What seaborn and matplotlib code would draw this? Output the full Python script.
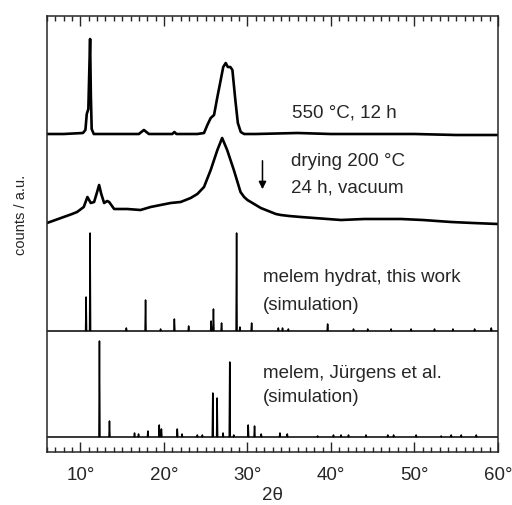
import numpy as np
import pandas as pd
import seaborn as sns
import matplotlib
matplotlib.use("Agg")
import matplotlib.pyplot as plt
from matplotlib.ticker import MultipleLocator

# measured pattern, 550 C 12 h (2theta, intensity above own baseline)
x550 = [6.0, 8.0, 10.3, 10.6, 10.76, 10.95, 11.05, 11.16, 11.25, 11.35, 11.6, 14.0, 17.0, 17.6, 18.2,
        21.0, 21.25, 21.5, 24.0, 24.8, 25.2, 25.6, 26.0, 26.4, 26.8, 27.1, 27.4, 27.65, 27.95, 28.2,
        28.55, 28.85, 29.2, 29.6, 31.0, 36.0, 40.0, 45.0, 50.0, 55.0, 60.0]
y550 = [1, 1, 2, 5, 21, 26, 60, 96, 40, 6, 1, 1, 1, 5, 1,
        1, 3, 1, 1, 2, 10, 17, 20, 38, 55, 68, 72, 68, 68, 65,
        35, 12, 3, 1, 1, 2, 1, 1, 1, 0, 0]

# measured pattern, drying 200 C 24 h vacuum
xdry = [6.0, 7.0, 8.0, 9.0, 9.6, 10.4, 10.84, 11.24, 11.64, 12.0, 12.24, 12.5, 12.84, 13.2, 13.44,
        14.04, 15.6, 17.2, 18.4, 19.6, 20.8, 22.0, 23.2, 24.0, 24.8, 25.6, 26.4, 26.97, 27.57, 28.37,
        29.17, 29.6, 30.0, 30.4, 31.0, 31.6, 32.2, 32.8, 33.4, 34.0, 35.0, 36.4, 38.0, 41.2, 44.0,
        48.4, 51.0, 54.4, 57.0, 60.0]
ydry = [29, 32, 35, 38, 40, 45, 55, 49, 50, 60, 67, 58, 49, 51, 50,
        43, 43, 42, 45, 47, 49, 50, 54, 58, 65, 82, 102, 114, 102, 82,
        60, 55, 52, 50, 47, 44, 42, 40, 38, 37, 36, 35, 34, 32, 33,
        33, 32, 30, 29, 28]

# simulated melem hydrate (this work): peak positions / intensities
hyd_pos = [10.68, 11.16, 15.5, 17.8, 19.6, 21.25, 22.96, 25.65, 25.93, 26.9, 28.7, 29.1, 30.5,
           33.7, 34.2, 34.9, 39.6, 42.7, 44.4, 47.2, 49.6, 52.4, 54.6, 57.2, 59.2]
hyd_int = [34, 98, 3, 31, 2, 12, 5, 10, 22, 8, 98, 4, 8,
           3, 3, 2, 7, 2, 2, 2, 2, 2, 2, 2, 3]

# simulated melem (Juergens et al.)
mel_pos = [12.28, 13.48, 16.48, 16.96, 18.08, 19.44, 19.7, 21.6, 22.17, 24.0, 24.6, 25.85, 26.37,
           27.08, 27.88, 28.36, 30.09, 30.85, 31.65, 33.89, 34.77, 38.4, 40.3, 41.2, 42.1, 44.2,
           46.8, 47.5, 50.2, 53.2, 54.4, 55.6, 57.4]
mel_int = [96, 16, 4, 3, 6, 12, 8, 8, 3, 2, 2, 44, 39,
           4, 75, 2, 12, 11, 3, 4, 3, 1, 2, 2, 2, 2,
           2, 2, 2, 1, 2, 2, 2]

# vertical offsets of the stacked patterns
off550, offdry, offhyd, offmel = 317, 200, 121, 15


def sticks(pos, inten, w=0.06):
    xs, ys = [6.0], [0]
    for p, h in zip(pos, inten):
        xs += [p - w, p, p + w]
        ys += [0, h, 0]
    xs.append(60.0)
    ys.append(0)
    return pd.DataFrame({"x": xs, "y": ys})


sns.set_style("ticks")
plt.rcParams["font.family"] = ["Liberation Sans", "DejaVu Sans"]

fig = plt.figure(figsize=(5.12, 5.05), dpi=100)
ax = fig.add_axes([47 / 512, 1 - 452 / 505, 451 / 512, 436 / 505])

d550 = pd.DataFrame({"x": x550, "y": np.array(y550) + off550})
ddry = pd.DataFrame({"x": xdry, "y": np.array(ydry) + offdry})
dhyd = sticks(hyd_pos, hyd_int)
dhyd["y"] += offhyd
dmel = sticks(mel_pos, mel_int)
dmel["y"] += offmel

sns.lineplot(data=d550, x="x", y="y", color="k", lw=1.9, sort=False, estimator=None, ax=ax)
sns.lineplot(data=ddry, x="x", y="y", color="k", lw=1.9, sort=False, estimator=None, ax=ax)
sns.lineplot(data=dhyd, x="x", y="y", color="k", lw=1.1, sort=False, estimator=None, ax=ax)
sns.lineplot(data=dmel, x="x", y="y", color="k", lw=1.1, sort=False, estimator=None, ax=ax)

fs = 13.5
ax.text(35.3, 339, "550 °C, 12 h", fontsize=fs, va="center")
ax.text(35.2, 290, "drying 200 °C", fontsize=fs, va="center")
ax.text(35.2, 264, "24 h, vacuum", fontsize=fs, va="center")
ax.text(31.9, 174, "melem hydrat, this work", fontsize=fs, va="center")
ax.text(31.9, 147, "(simulation)", fontsize=fs, va="center")
ax.text(31.9, 79, "melem, Jürgens et al.", fontsize=fs, va="center")
ax.text(31.9, 54, "(simulation)", fontsize=fs, va="center")

ax.annotate("", xy=(31.8, 260), xytext=(31.8, 294),
            arrowprops=dict(arrowstyle="-|>", color="k", lw=1.1, mutation_scale=11))

ax.set_xlim(6, 60)
ax.set_ylim(0, 436)
ax.set_xticks([10, 20, 30, 40, 50, 60])
ax.set_xticklabels(["10°", "20°", "30°", "40°", "50°", "60°"], fontsize=13.5)
ax.xaxis.set_minor_locator(MultipleLocator(1))
ax.set_yticks([])
ax.tick_params(axis="x", which="both", direction="in", top=True, bottom=True, width=1.0, pad=11)
ax.tick_params(axis="x", which="major", length=7.5)
ax.tick_params(axis="x", which="minor", length=3.5)
for s in ax.spines.values():
    s.set_linewidth(1.1)

ax.set_xlabel("2θ", fontsize=13.5, va="center")
ax.xaxis.set_label_coords(0.5, -0.1)
ax.set_ylabel("counts / a.u.", fontsize=10.5, va="center")
ax.yaxis.set_label_coords(-0.057, 0.544)

fig.savefig("out.png", dpi=100)
